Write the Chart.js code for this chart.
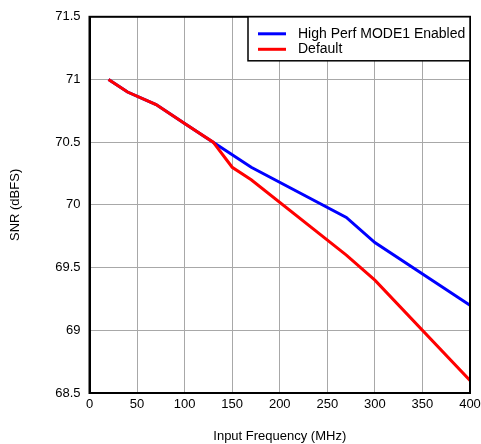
<!DOCTYPE html>
<html>
<head>
<meta charset="utf-8">
<script src="https://cdn.jsdelivr.net/npm/chart.js@4"></script>
<style>
  html, body { margin: 0; padding: 0; background: #fff; }
  #wrap { width: 481px; height: 444px; }
</style>
</head>
<body>
<div id="wrap"><canvas id="snrChart" width="481" height="444"></canvas></div>
<script>
// Données
const seriesNames = ['High Perf MODE1 Enabled', 'Default'];
const freqMode1 = [20, 40, 70, 100, 130, 170, 270, 300, 400];
const snrMode1 = [71.0, 70.9, 70.8, 70.65, 70.5, 70.3, 69.9, 69.7, 69.2];
const freqDefault = [20, 40, 70, 100, 130, 150, 170, 270, 300, 400];
const snrDefault = [71.0, 70.9, 70.8, 70.65, 70.5, 70.3, 70.2, 69.6, 69.4, 68.6];

const FONT = 'Liberation Sans, Arial, sans-serif';
const FSIZE = 13;

// Cadre noir autour de la zone de tracé + légende en boîte
const framePlugin = {
    id: 'frame',
    afterDatasetsDraw(chart) {
        const { ctx, chartArea: a } = chart;
        ctx.save();
        ctx.strokeStyle = '#000';
        ctx.lineWidth = 2;
        ctx.strokeRect(a.left, a.top, a.right - a.left, a.bottom - a.top);

        // légende
        const boxW = 222, boxH = 44;
        const bx = a.right - boxW, by = a.top;
        ctx.fillStyle = '#fff';
        ctx.fillRect(bx, by, boxW, boxH);
        ctx.lineWidth = 1.5;
        ctx.strokeRect(bx, by, boxW, boxH);
        ctx.font = '14px ' + FONT;
        ctx.textBaseline = 'middle';
        chart.data.datasets.forEach((ds, i) => {
            const y = by + 17 + i * 15.5;
            ctx.strokeStyle = ds.borderColor;
            ctx.lineWidth = 3;
            ctx.beginPath();
            ctx.moveTo(bx + 10, y);
            ctx.lineTo(bx + 38, y);
            ctx.stroke();
            ctx.fillStyle = '#000';
            ctx.fillText(ds.label, bx + 50, y);
        });
        ctx.restore();
    }
};

new Chart(document.getElementById('snrChart'), {
    type: 'line',
    data: {
        datasets: [
            {
                label: seriesNames[0],
                data: freqMode1.map((f, i) => ({ x: f, y: snrMode1[i] })),
                borderColor: '#0000ff',
                borderWidth: 3,
                pointRadius: 0,
                tension: 0,
                fill: false,
                order: 1
            },
            {
                label: seriesNames[1],
                data: freqDefault.map((f, i) => ({ x: f, y: snrDefault[i] })),
                borderColor: '#ff0000',
                borderWidth: 3,
                pointRadius: 0,
                tension: 0,
                fill: false,
                order: 0
            }
        ]
    },
    options: {
        responsive: false,
        animation: false,
        layout: { padding: { left: 0, top: 13, right: 11, bottom: 0 } },
        plugins: {
            legend: { display: false },
            tooltip: { enabled: false }
        },
        scales: {
            x: {
                type: 'linear',
                min: 0,
                max: 400,
                ticks: { stepSize: 50, color: '#000', font: { family: FONT, size: FSIZE }, padding: 4, maxRotation: 0 },
                grid: { color: '#a8a8a8', lineWidth: 1, drawTicks: false },
                border: { color: '#000', width: 2 },
                title: { display: true, text: 'Input Frequency (MHz)', color: '#000', font: { family: FONT, size: FSIZE }, padding: { top: 11, bottom: 0 } },
                afterFit(s) { s.height = 51; s.paddingLeft = 0; s.paddingRight = 0; }
            },
            y: {
                min: 68.5,
                max: 71.5,
                ticks: {
                    stepSize: 0.5, color: '#000', font: { family: FONT, size: FSIZE }, padding: 9,
                    callback: v => String(v)
                },
                grid: { color: '#a8a8a8', lineWidth: 1, drawTicks: false },
                border: { color: '#000', width: 2 },
                title: { display: true, text: 'SNR (dBFS)', color: '#000', font: { family: FONT, size: FSIZE }, padding: { top: 8, bottom: 0 } },
                afterFit(s) { s.width = 89.5; }
            }
        }
    },
    plugins: [framePlugin]
});
</script>
</body>
</html>
